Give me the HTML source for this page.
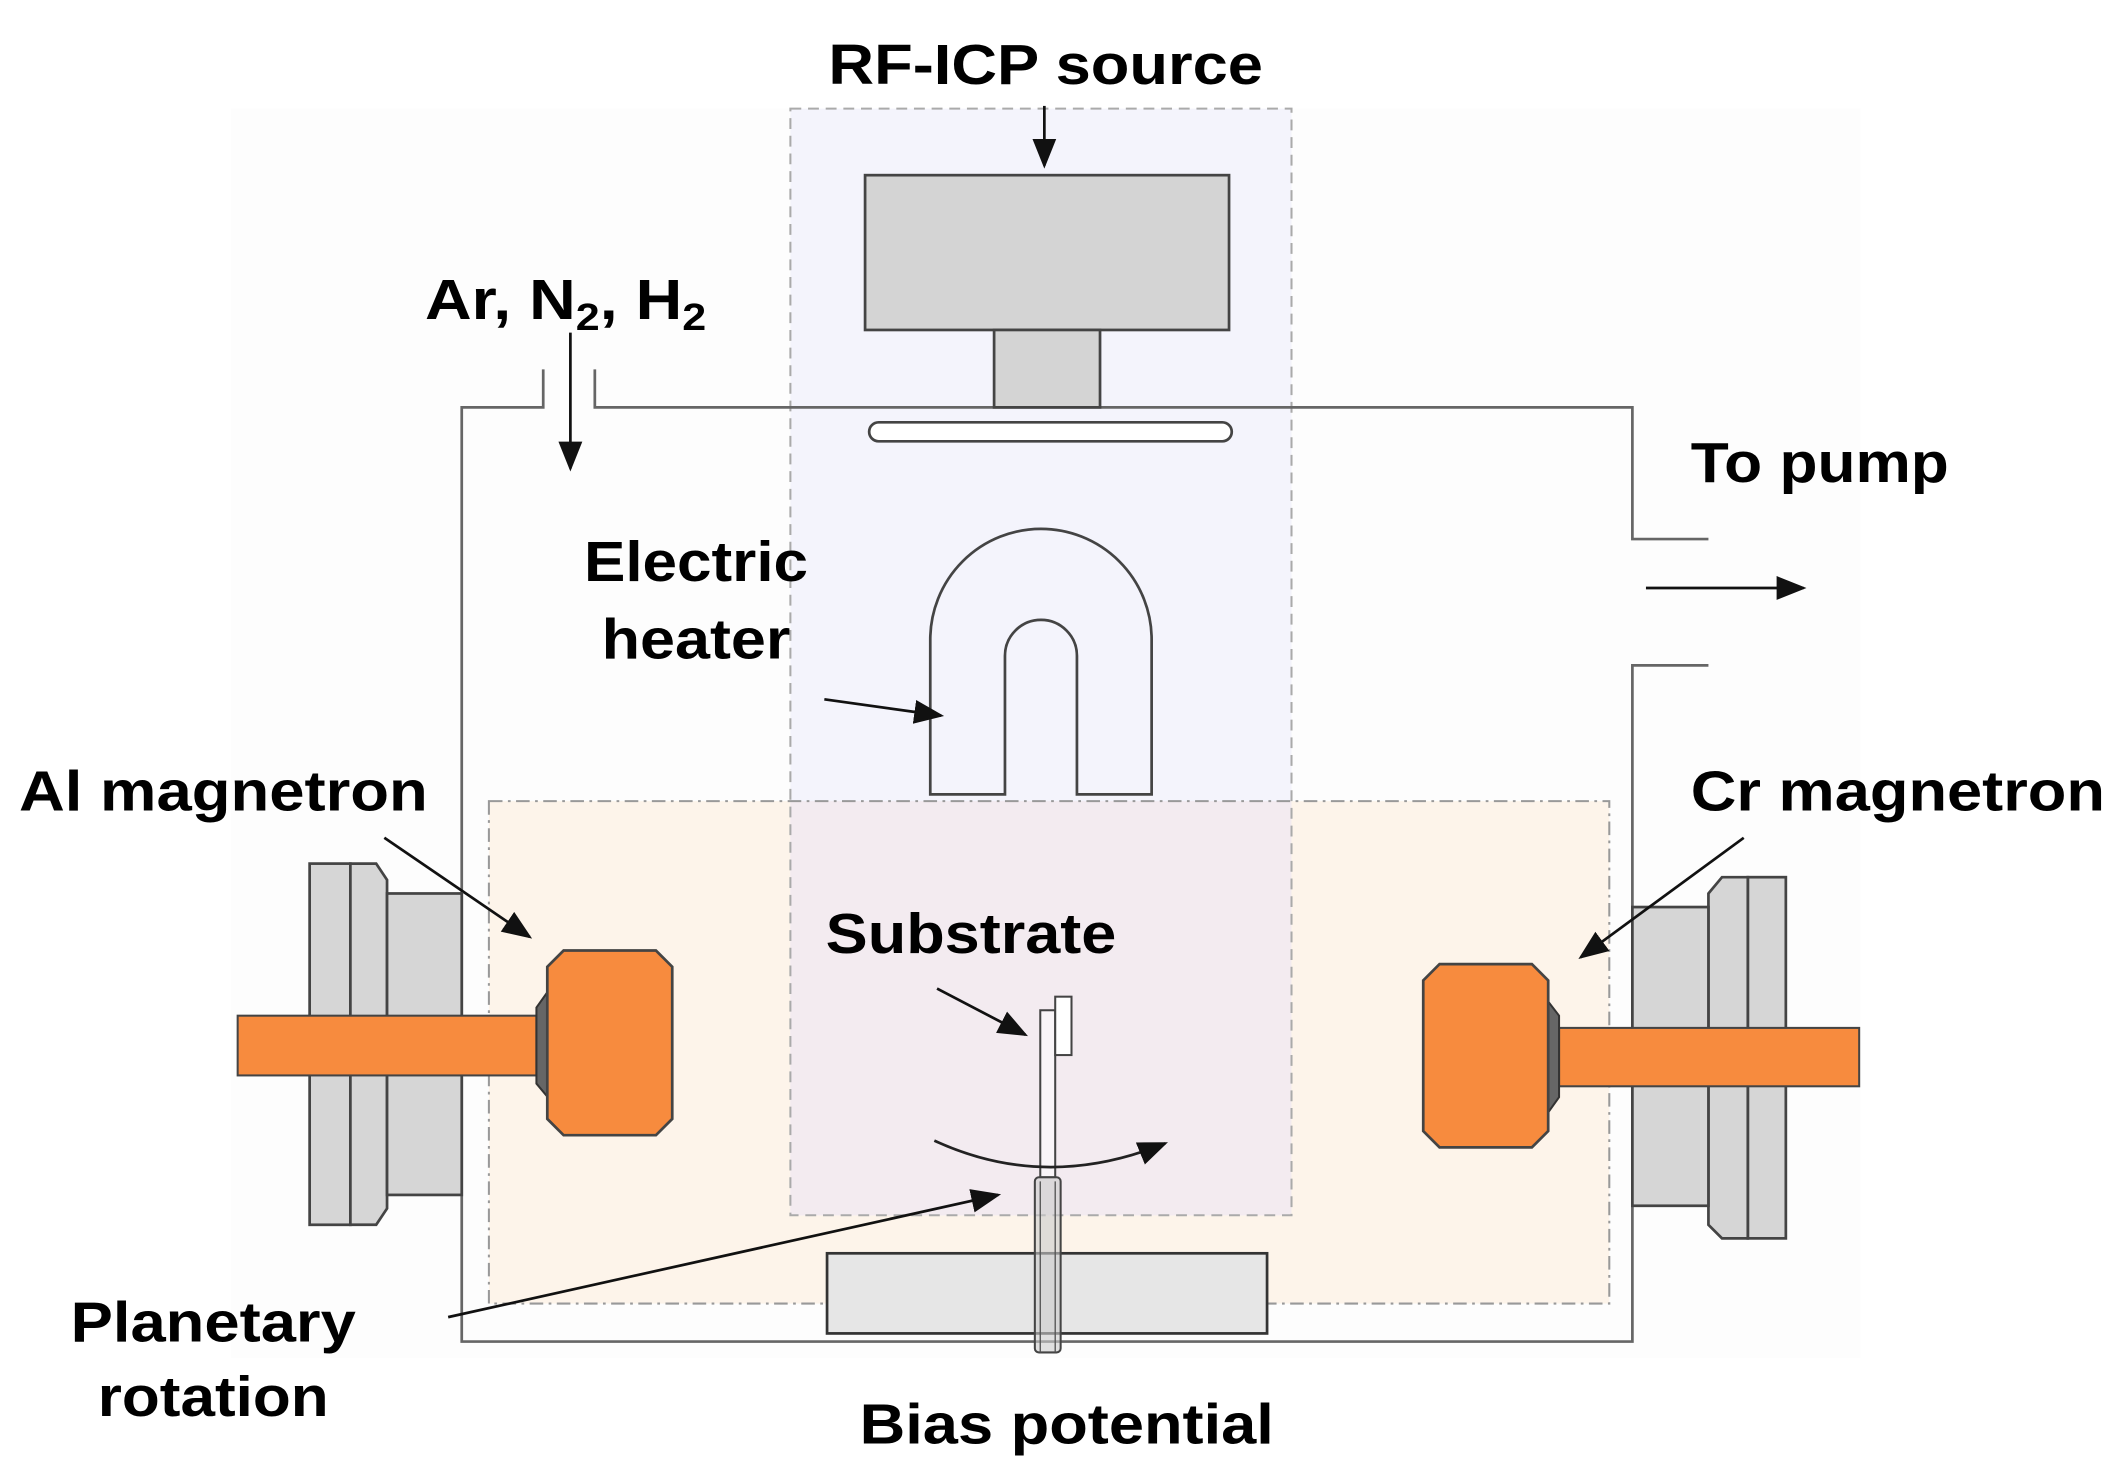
<!DOCTYPE html>
<html><head><meta charset="utf-8"><style>html,body{margin:0;padding:0;background:#fff}svg{display:block}</style></head>
<body>
<svg width="2124" height="1476" viewBox="0 0 1564 1087" preserveAspectRatio="none" xmlns="http://www.w3.org/2000/svg" font-family="'Liberation Sans', sans-serif" font-weight="bold">
<defs>
<marker id="ab" viewBox="0 0 10 10" refX="9" refY="5" markerWidth="22" markerHeight="22" orient="auto" markerUnits="userSpaceOnUse">
<path d="M0,1 L10,5 L0,9 z" fill="#111"/></marker>
</defs>
<rect x="170" y="80" width="1200" height="920" fill="#fdfdfd"/>
<!-- orange region -->
<rect x="360" y="590" width="825" height="370" fill="#fdf4ea"/>
<!-- blue region -->
<rect x="582" y="80" width="369" height="815" fill="#f4f4fc"/>
<rect x="582" y="590" width="369" height="305" fill="#f3ebf0"/>
<rect x="360" y="590" width="825" height="370" fill="none" stroke="#999" stroke-width="1.5" stroke-dasharray="10,4,2,4"/>
<rect x="582" y="80" width="369" height="815" fill="none" stroke="#aaa" stroke-width="1.5" stroke-dasharray="8,5"/>
<!-- chamber -->
<path d="M400 272 L400 300 L340 300 L340 988 L1202 988 L1202 490 L1258 490 M1258 397 L1202 397 L1202 300 L438 300 L438 272" fill="none" stroke="#666" stroke-width="2"/>
<line x1="420" y1="245" x2="420" y2="345" stroke="#111" stroke-width="2" marker-end="url(#ab)"/>
<text x="313" y="235" font-size="42" textLength="207" lengthAdjust="spacingAndGlyphs">Ar, N<tspan font-size="28" dy="8">2</tspan><tspan dy="-8">, H</tspan><tspan font-size="28" dy="8">2</tspan></text>
<text x="610" y="62" font-size="42" textLength="320" lengthAdjust="spacingAndGlyphs">RF-ICP source</text>
<line x1="769" y1="78" x2="769" y2="122" stroke="#111" stroke-width="2" marker-end="url(#ab)"/>
<rect x="637" y="129" width="268" height="114" fill="#d4d4d4" stroke="#444" stroke-width="2"/>
<rect x="732" y="243" width="78" height="57" fill="#d4d4d4" stroke="#444" stroke-width="2"/>
<rect x="640" y="311" width="267" height="14" rx="7" fill="#fff" stroke="#444" stroke-width="2"/>
<path d="M685 585 L685 471 A81.5 81.5 0 0 1 848 471 L848 585 L793 585 L793 483 A26.5 26.5 0 0 0 740 483 L740 585 Z" fill="none" stroke="#444" stroke-width="2"/>
<text x="430" y="428" font-size="42" textLength="165" lengthAdjust="spacingAndGlyphs">Electric</text>
<text x="443" y="485" font-size="42" textLength="139" lengthAdjust="spacingAndGlyphs">heater</text>
<line x1="607" y1="515" x2="693" y2="527" stroke="#111" stroke-width="2" marker-end="url(#ab)"/>
<text x="1245" y="355" font-size="42" textLength="190" lengthAdjust="spacingAndGlyphs">To pump</text>
<line x1="1212" y1="433" x2="1328" y2="433" stroke="#111" stroke-width="2" marker-end="url(#ab)"/>
<text x="14" y="597" font-size="42" textLength="301" lengthAdjust="spacingAndGlyphs">Al magnetron</text>
<text x="1245" y="597" font-size="42" textLength="305" lengthAdjust="spacingAndGlyphs">Cr magnetron</text>
<line x1="283" y1="617" x2="390" y2="690" stroke="#111" stroke-width="2" marker-end="url(#ab)"/>
<!-- left magnetron -->
<rect x="228" y="636" width="30" height="266" fill="#d6d6d6" stroke="#444" stroke-width="2"/>
<path d="M258 636 L277 636 L285 648 L285 890 L277 902 L258 902 Z" fill="#d6d6d6" stroke="#444" stroke-width="2"/>
<rect x="285" y="658" width="55" height="222" fill="#d6d6d6" stroke="#444" stroke-width="2"/>
<rect x="175" y="748" width="220" height="44" fill="#f78b3e" stroke="#444" stroke-width="1.5"/>
<path d="M405 728 L395 742 L395 798 L405 810 Z" fill="#666" stroke="#333" stroke-width="1.5"/>
<path d="M415 700 L483 700 L495 712 L495 824 L483 836 L415 836 L403 824 L403 712 Z" fill="#f78b3e" stroke="#444" stroke-width="2"/>
<!-- right magnetron -->
<rect x="1287" y="646" width="28" height="266" fill="#d6d6d6" stroke="#444" stroke-width="2"/>
<path d="M1287 646 L1268 646 L1258 658 L1258 902 L1268 912 L1287 912 Z" fill="#d6d6d6" stroke="#444" stroke-width="2"/>
<rect x="1202" y="668" width="56" height="220" fill="#d6d6d6" stroke="#444" stroke-width="2"/>
<rect x="1148" y="757" width="221" height="43" fill="#f78b3e" stroke="#444" stroke-width="1.5"/>
<path d="M1138 735 L1148 748 L1148 808 L1138 822 Z" fill="#666" stroke="#333" stroke-width="1.5"/>
<path d="M1060 710 L1128 710 L1140 722 L1140 833 L1128 845 L1060 845 L1048 833 L1048 722 Z" fill="#f78b3e" stroke="#444" stroke-width="2"/>
<line x1="1284" y1="617" x2="1164" y2="705" stroke="#111" stroke-width="2" marker-end="url(#ab)"/>
<!-- substrate -->
<text x="608" y="702" font-size="42" textLength="214" lengthAdjust="spacingAndGlyphs">Substrate</text>
<line x1="690" y1="728" x2="755" y2="762" stroke="#111" stroke-width="2" marker-end="url(#ab)"/>
<rect x="609" y="923" width="324" height="59" fill="#e6e6e6" stroke="#333" stroke-width="2"/>
<rect x="766" y="744" width="11" height="123" fill="#fff" fill-opacity="0.5" stroke="#444" stroke-width="1.5"/>
<rect x="777" y="734" width="12" height="43" fill="#fff" stroke="#444" stroke-width="1.5"/>
<rect x="762" y="867" width="19" height="129" rx="3" fill="#ccc" fill-opacity="0.6" stroke="#444" stroke-width="1.5"/>
<line x1="766" y1="870" x2="766" y2="996" stroke="#555" stroke-width="1"/>
<line x1="777" y1="870" x2="777" y2="996" stroke="#555" stroke-width="1"/>
<path d="M688 840 Q770 878 858 842" fill="none" stroke="#222" stroke-width="2" marker-end="url(#ab)"/>
<line x1="330" y1="970" x2="735" y2="880" stroke="#111" stroke-width="2" marker-end="url(#ab)"/>
<text x="52" y="988" font-size="42" textLength="210" lengthAdjust="spacingAndGlyphs">Planetary</text>
<text x="72" y="1043" font-size="42" textLength="170" lengthAdjust="spacingAndGlyphs">rotation</text>
<text x="633" y="1063" font-size="42" textLength="305" lengthAdjust="spacingAndGlyphs">Bias potential</text>
</svg>
</body></html>
